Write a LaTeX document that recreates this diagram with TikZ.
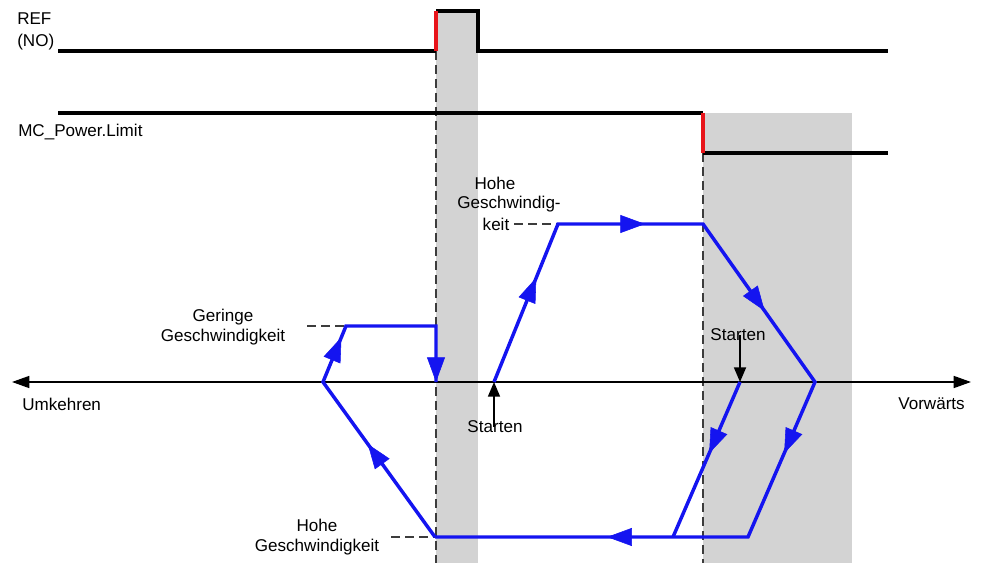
\documentclass[tikz,border=0pt]{standalone}
\usepackage{fontspec}
\setmainfont{Liberation Sans}
\usetikzlibrary{arrows.meta,decorations.markings}
\definecolor{sigblue}{RGB}{20,20,240}
\definecolor{zonegray}{RGB}{211,211,211}
\definecolor{sigred}{RGB}{232,20,26}
\definecolor{dashgray}{RGB}{60,60,60}
\begin{document}
\begin{tikzpicture}[x=0.75pt,y=-0.75pt,
  font=\fontsize{12.8}{15}\selectfont,
  sig/.style={line width=2.5pt,black},
  edge/.style={line width=2.5pt,sigred},
  leader/.style={line width=1.4pt,dashgray,dash pattern=on 6.5pt off 4pt},
  traj/.style={line width=2.6pt,sigblue,line join=miter},
  arr/.style={decorate,decoration={markings,mark=at position #1 with {\arrow[sigblue]{Triangle[length=18.5pt,width=13.5pt]}}}},
  lbl/.style={inner sep=0pt,align=center},
  startarrow/.style={line width=1.3pt,-{Triangle[length=11pt,width=9pt]}}
]
\useasboundingbox (0,0) rectangle (982,563);
% shaded zones
\fill[zonegray] (436,11) rectangle (478,563);
\fill[zonegray] (703,113) rectangle (852,563);

% coordinates
\coordinate (r0) at (58,51);
\coordinate (r1) at (436,51);
\coordinate (r2) at (436,11);
\coordinate (r3) at (478,11);
\coordinate (r4) at (478,51);
\coordinate (r5) at (888,51);
\coordinate (p0) at (58,113);
\coordinate (p1) at (703,113);
\coordinate (p2) at (703,153);
\coordinate (p3) at (888,153);
\coordinate (dA) at (436,563);
\coordinate (dB) at (703,563);
\coordinate (ax0) at (12,382);
\coordinate (ax1) at (971,382);

% blue vertices
\coordinate (b1) at (435,537);
\coordinate (l0) at (323,382);
\coordinate (l1) at (346,326);
\coordinate (l2) at (436,326);
\coordinate (l3) at (436,382);
\coordinate (s1) at (494,382);
\coordinate (h1) at (558,224);
\coordinate (h2) at (703,224);
\coordinate (q0) at (815,382);
\coordinate (q1) at (748,537);
\coordinate (s2) at (740,382);
\coordinate (c1) at (673,537);

% dashed verticals
\draw[leader] (r1) -- (dA);
\draw[leader] (p2) -- (dB);

% signals
\draw[sig] (r0) -- (r1);
\draw[sig,line join=miter] (r2) -- (r3) -- (r4) -- (r5);
\draw[edge] (r1) -- (r2);
\draw[sig] (p0) -- (p1);
\draw[sig] (p2) -- (p3);
\draw[edge] (p1) -- (p2);

% axis
\draw[line width=1.2pt,{Triangle[length=13pt,width=9pt]}-{Triangle[length=13pt,width=9pt]}] (ax0) -- (ax1);

% labels
\node[lbl,anchor=west,align=left,font=\fontsize{12.8}{16.5}\selectfont] (ref) at (17,31) {REF\\(NO)};
\node[lbl,anchor=west] (mcp) at (18,132) {MC\_Power.Limit};
\node[lbl,anchor=west] (umk) at (22,404) {Umkehren};
\node[lbl,anchor=east] (vor) at (965,404) {Vorwärts};

\node[lbl] (lowlbl) at (223,327) {Geringe\\Geschwindigkeit};
\node[lbl] (hilbl) at (317,537) {Hohe\\Geschwindigkeit};
\node[lbl] (toplbl1) at (495,183) {Hohe};
\node[lbl] (toplbl2) at (509,204) {Geschwindig-};
\node[lbl] (toplbl3) at (496,224) {keit};

\coordinate (lowd) at (307,326);
\coordinate (hid) at (391,537);
\coordinate (topd) at (514,224);
\draw[leader] (lowd) -- (l1);
\draw[leader] (hid) -- (b1);
\draw[leader] (topd) -- (h1);

% trajectories
\draw[traj] (b1) -- (l0) -- (l1) -- (l2) -- (l3);
\draw[traj] (s1) -- (h1) -- (h2) -- (q0) -- (q1) -- (b1);
\draw[traj] (s2) -- (c1);

\path[arr=0.6] (b1) -- (l0);
\path[arr=0.8] (l0) -- (l1);
\path[arr=1] (l2) -- (l3);
\path[arr=0.66] (s1) -- (h1);
\path[arr=0.6] (h1) -- (h2);
\path[arr=0.55] (h2) -- (q0);
\path[arr=0.46] (q0) -- (q1);
\path[arr=0.46] (s2) -- (c1);
\path[arr=0.45] (q1) -- (b1);

% Starten
\node[lbl] (st1) at (495,427) {Starten};
\node[lbl] (st2) at (738,335) {Starten};
\draw[startarrow] ([yshift=-4.5pt]st1.north -| s1) -- (s1);
\draw[startarrow] ([yshift=4.5pt]st2.south -| s2) -- (s2);
\end{tikzpicture}
\end{document}
